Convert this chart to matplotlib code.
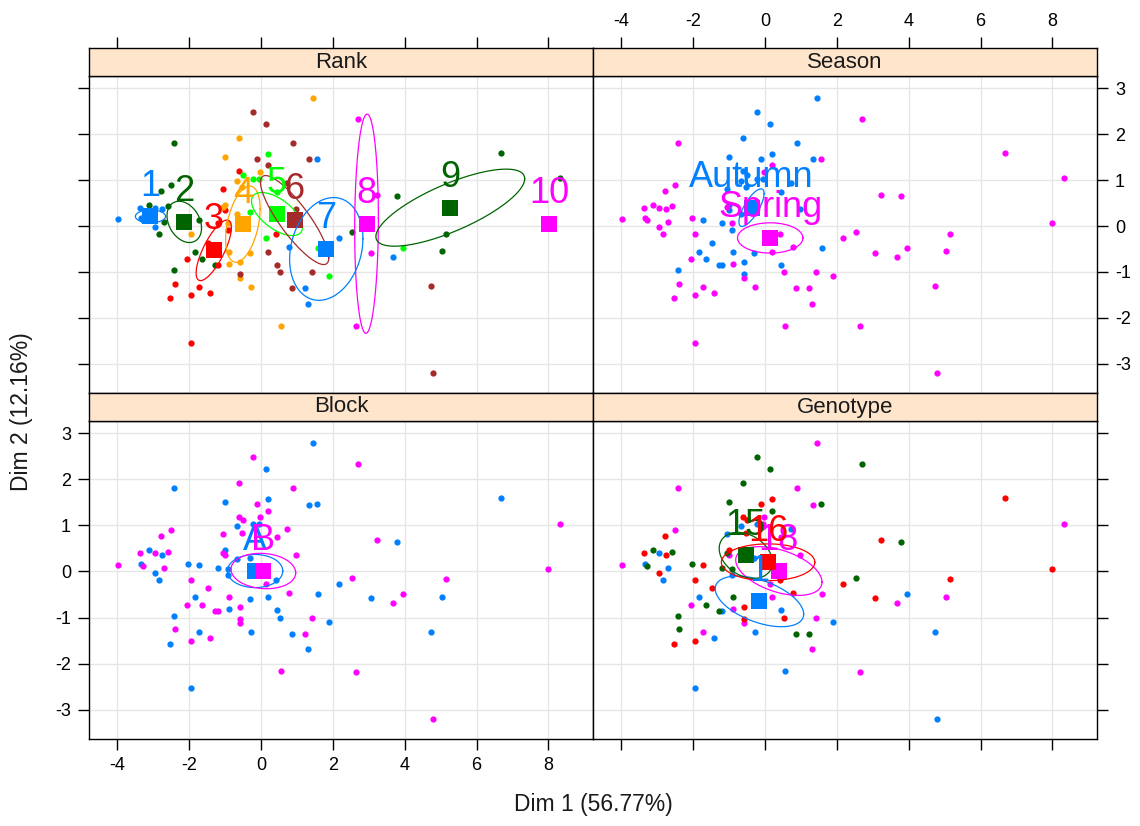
import numpy as np
import matplotlib
matplotlib.use('Agg')
import matplotlib.pyplot as plt

plt.rcParams['font.family'] = ['Liberation Sans', 'DejaVu Sans']
plt.rcParams['axes.unicode_minus'] = False

# individual coordinates on the first two dimensions
dim1 = [1.44, -0.23, 0.14, 2.69, -2.41, -0.60, 0.90, -1.00, -0.11, 0.21,
        0.21, 1.35, 1.55, -0.60, -0.49, -0.02, -0.67, -0.23, -0.05, -2.50,
        -2.78, -1.04, -0.52, 0.74, 0.46, -3.35, -3.12, -2.95, -2.74, -2.58,
        -1.00, -1.04, -0.99, 0.99, -3.34, -3.27, -2.95, -2.70, -2.82, -2.03,
        -1.72, -1.20, -0.90, -0.92, -0.67, -0.29, -1.93, -1.48, -1.82, -1.65,
        -2.05, -1.28, -1.20, -0.88, -0.88, -0.59, -0.30, 0.21, 0.42, 0.14,
        0.78, 1.59, 2.17, 2.53, 0.46, 0.54, 1.43, 1.91, -2.41, -2.38,
        -0.59, -0.58, -0.27, -1.72, -1.41, -2.53, -1.94, 0.87, 1.24, 1.31,
        6.68, 8.33, 3.23, 3.80, 7.98, 5.15, 3.07, 3.69, 3.96, 5.03,
        4.74, 2.66, 0.55, -1.94, 4.78, -3.96]
dim2 = [2.79, 2.48, 2.23, 2.33, 1.82, 1.92, 1.82, 1.51, 1.47, 1.57,
        1.32, 1.45, 1.47, 1.19, 1.12, 1.18, 0.99, 1.03, 1.03, 0.90,
        0.77, 0.81, 0.84, 0.93, 0.74, 0.40, 0.46, 0.40, 0.36, 0.43,
        0.46, 0.41, 0.35, 0.36, 0.17, 0.13, -0.03, 0.08, -0.18, 0.17,
        0.14, 0.07, 0.06, -0.08, 0.27, 0.30, -0.18, -0.36, -0.56, -0.72,
        -0.72, -0.85, -0.85, -0.56, -0.82, -0.78, -0.59, -0.56, -0.18, -0.27,
        -0.46, -0.48, -0.27, -0.14, -0.84, -1.00, -1.00, -1.10, -0.96, -1.26,
        -1.04, -1.13, -1.32, -1.32, -1.45, -1.58, -1.51, -1.35, -1.35, -1.69,
        1.60, 1.04, 0.68, 0.65, 0.06, -0.17, -0.58, -0.68, -0.48, -0.55,
        -1.31, -2.19, -2.17, -2.54, -3.21, 0.15]

rank = [4, 6, 6, 8, 2, 4, 6, 4, 6, 5,
        6, 6, 7, 3, 5, 4, 4, 5, 5, 2,
        2, 3, 4, 6, 5, 1, 2, 1, 1, 2,
        4, 4, 3, 6, 1, 1, 1, 2, 2, 2,
        2, 3, 4, 3, 4, 5, 4, 3, 2, 2,
        3, 2, 3, 4, 4, 4, 4, 6, 3, 5,
        7, 5, 7, 9, 6, 6, 6, 5, 2, 3,
        6, 4, 4, 3, 3, 3, 3, 6, 7, 7,
        9, 9, 8, 9, 10, 9, 8, 7, 5, 9,
        6, 8, 4, 3, 6, 1]
season = list("AAASSAAAAA" "SASAASAAAS" "SAAAASSSSS" "ASAASSSSSS"
              "AASAAASAAA" "SAAASAASSS" "SASSASSSAS" "ASSSSSSSSS"
              "SSSSSSSSSS" "SSSSSS")
block = list("ABABABBABA" "BAABBBAAAB" "BBBBBBABAB" "ABBBABABAA"
             "AAAAAABBAB" "BBBBABAAAB" "BAABAABAAB" "BBAABABABA"
             "ABBABBABBA" "ABBABB")
genotype = [18, 15, 15, 15, 18, 15, 18, 15, 16, 16,
            15, 18, 15, 16, 16, 18, 1, 1, 18, 18,
            16, 1, 16, 1, 18, 16, 15, 1, 16, 15,
            16, 15, 18, 18, 1, 15, 16, 1, 1, 15,
            16, 15, 15, 1, 16, 1, 16, 16, 1, 15,
            18, 15, 1, 15, 18, 16, 1, 18, 16, 18,
            16, 18, 16, 15, 1, 16, 18, 1, 15, 15,
            16, 18, 1, 18, 1, 16, 16, 15, 15, 18,
            16, 18, 16, 15, 16, 16, 16, 18, 1, 18,
            1, 18, 1, 1, 1, 18]

# group levels (lattice order), barycentres and confidence ellipses (sx, sy, rho)
rank_levels = [1, 10, 2, 3, 4, 5, 6, 7, 8, 9]
rank_mx = [-3.07, 8.02, -2.13, -1.31, -0.50, 0.45, 0.94, 1.82, 2.94, 5.27]
rank_my = [0.21, 0.05, 0.09, -0.53, 0.04, 0.26, 0.13, -0.50, 0.05, 0.40]
rank_sx = [0.42, 0, 0.48, 0.49, 0.48, 0.71, 0.95, 1.02, 0.33, 2.07]
rank_sy = [0.14, 0, 0.45, 0.66, 0.83, 0.47, 0.97, 1.12, 2.39, 0.84]
rank_rho = [0, 0, -0.3, 0.75, 0.4, -0.6, -0.85, 0.2, 0.05, 0.75]

season_levels = ['A', 'S']
season_names = ['Autumn', 'Spring']
season_mx = [-0.37, 0.15]
season_my = [0.40, -0.26]
season_sx = [0.35, 0.91]
season_sy = [0.41, 0.33]
season_rho = [0.75, 0.0]

block_levels = ['A', 'B']
block_names = ['A', 'B']
block_mx = [-0.16, 0.07]
block_my = [0.01, 0.01]
block_sx = [0.77, 0.90]
block_sy = [0.36, 0.385]
block_rho = [0.0, -0.1]

geno_levels = [1, 18, 15, 16]
geno_mx = [-0.15, 0.39, -0.53, 0.09]
geno_my = [-0.65, 0.01, 0.35, 0.20]
geno_sx = [1.23, 1.20, 0.74, 1.30]
geno_sy = [0.55, 0.53, 0.50, 0.40]
geno_rho = [-0.5, -0.45, -0.3, 0.0]

pal = ['#0080ff', '#ff00ff', '#006400', '#ff0000', '#ffa500', '#00ff00', '#a52a2a']

panels = [
    ('Rank', rank, rank_levels, [str(l) for l in rank_levels],
     rank_mx, rank_my, rank_sx, rank_sy, rank_rho),
    ('Season', season, season_levels, season_names,
     season_mx, season_my, season_sx, season_sy, season_rho),
    ('Block', block, block_levels, block_names,
     block_mx, block_my, block_sx, block_sy, block_rho),
    ('Genotype', genotype, geno_levels, [str(l) for l in geno_levels],
     geno_mx, geno_my, geno_sx, geno_sy, geno_rho),
]

W, H = 1140, 826
fig = plt.figure(figsize=(W / 100, H / 100), dpi=100)


def box(x0, y0, x1, y1):
    return [x0 / W, 1 - y1 / H, (x1 - x0) / W, (y1 - y0) / H]


cols = [(89, 593), (593, 1097)]
rows = [(48, 76, 393), (393, 421, 739)]
xlim = (-4.78, 9.24)
ylim = (-3.64, 3.27)
xt = [-4, -2, 0, 2, 4, 6, 8]
yt = [-3, -2, -1, 0, 1, 2, 3]

x = np.array(dim1)
y = np.array(dim2)
t = np.linspace(0, 2 * np.pi, 200)

for i, (title, grp, levels, names, mx, my, sx, sy, rho) in enumerate(panels):
    r, c = divmod(i, 2)
    ax = fig.add_axes(box(cols[c][0], rows[r][1], cols[c][1], rows[r][2]))
    sax = fig.add_axes(box(cols[c][0], rows[r][0], cols[c][1], rows[r][1]))

    # strip
    sax.set_facecolor('#ffe5cc')
    sax.set_xlim(xlim)
    sax.set_ylim(0, 1)
    sax.set_yticks([])
    sax.set_xticks(xt)
    sax.text(0.5, 0.5, title, transform=sax.transAxes, ha='center', va='center',
             fontsize=16, color='#1a1a1a')
    sax.tick_params(axis='x', bottom=False, labelbottom=False, top=(r == 0),
                    labeltop=(r == 0 and c == 1), direction='out', length=8,
                    width=1, pad=5, labelsize=13)

    # panel
    ax.set_xlim(xlim)
    ax.set_ylim(ylim)
    ax.set_xticks(xt)
    ax.set_yticks(yt)
    ax.grid(color='#e6e6e6', lw=1)
    ax.set_axisbelow(True)
    ax.tick_params(axis='x', bottom=(r == 1), top=False,
                   labelbottom=(r == 1 and c == 0), direction='out', length=8,
                   width=1, pad=5, labelsize=13)
    ax.tick_params(axis='y', left=(c == 0), right=(c == 1),
                   labelleft=(c == 0 and r == 1), labelright=(c == 1 and r == 0),
                   direction='out', length=8, width=1, pad=5, labelsize=13)
    for a in (ax, sax):
        for s in a.spines.values():
            s.set_linewidth(1)

    g = np.array(grp)
    for k, lev in enumerate(levels):
        m = g == lev
        ax.plot(x[m], y[m], 'o', ms=4.5, mew=0, color=pal[k % 7], zorder=2)

    for k, lev in enumerate(levels):
        col = pal[k % 7]
        if sx[k] > 0:
            ex = mx[k] + sx[k] * np.cos(t)
            ey = my[k] + sy[k] * (rho[k] * np.cos(t) + np.sqrt(1 - rho[k] ** 2) * np.sin(t))
            ax.plot(ex, ey, color=col, lw=0.9, zorder=3)
        ax.plot(mx[k], my[k], 's', ms=12, mew=0, color=col, zorder=3)
        ax.annotate(names[k], (mx[k], my[k]), xytext=(0, 15), textcoords='offset points',
                    ha='center', va='baseline', fontsize=26, color=col, zorder=4)

fig.text(593 / W, 1 - 805 / H, 'Dim 1 (56.77%)', ha='center', va='center',
         fontsize=16.5, color='#1a1a1a')
fig.text(22 / W, 1 - 412 / H, 'Dim 2 (12.16%)', ha='center', va='center',
         rotation=90, fontsize=16.5, color='#1a1a1a')

fig.savefig('out.png', dpi=100)
